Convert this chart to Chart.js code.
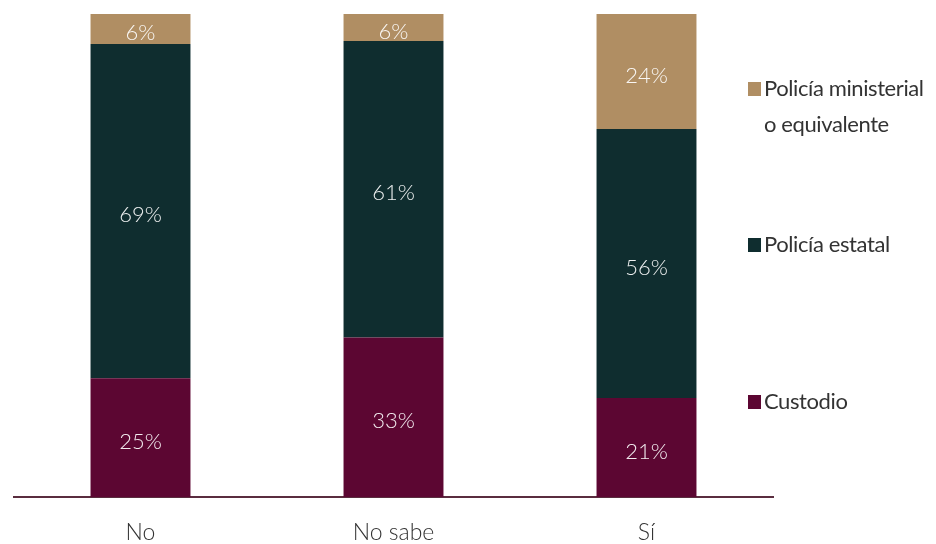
<!DOCTYPE html>
<html>
<head>
<meta charset="utf-8">
<script src="https://cdn.jsdelivr.net/npm/chart.js@4"></script>
<style>
  body { margin: 0; background: #fff; font-family: Lato, sans-serif; }
  #wrap { position: relative; width: 936px; height: 544px; }
  .leg { position: absolute; left: 748px; font-size: 22px; color: #333; line-height: 36px; font-weight: 400; white-space: nowrap; letter-spacing: -0.4px; }
  .leg i { display: inline-block; width: 13px; height: 14px; margin-right: 3px; vertical-align: 0px; }
</style>
</head>
<body>
<div id="wrap">
  <canvas id="chart" width="936" height="544"></canvas>
  <div class="leg" style="top:70px"><i style="background:#B08E63"></i>Policía ministerial<br><span style="padding-left:16px">o equivalente</span></div>
  <div class="leg" style="top:226px"><i style="background:#0F2D2F"></i>Policía estatal</div>
  <div class="leg" style="top:383px"><i style="background:#5C0632"></i>Custodio</div>
</div>
<script>
  // categories and series (percent of each bar)
  const categories = ["No", "No sabe", "Sí"];
  const custodio = [24.6, 33.0, 20.5];
  const estatal = [69.2, 61.4, 55.7];
  const ministerial = [6.2, 5.6, 23.8];

  // labels drawn inside each segment
  const barLabels = {
    id: "barLabels",
    afterDatasetsDraw(chart) {
      const ctx = chart.ctx;
      ctx.save();
      ctx.font = "300 22px Lato";
      ctx.fillStyle = "rgba(255,255,255,0.92)";
      ctx.textAlign = "center";
      ctx.textBaseline = "middle";
      chart.data.datasets.forEach((ds, i) => {
        chart.getDatasetMeta(i).data.forEach((bar, j) => {
          const y = (bar.y + bar.base) / 2 + 4;
          ctx.fillText(Math.round(ds.data[j]) + "%", bar.x, y);
        });
      });
      ctx.restore();
    }
  };

  new Chart(document.getElementById("chart"), {
    type: "bar",
    data: {
      labels: categories,
      datasets: [
        { label: "Custodio", data: custodio, backgroundColor: "#5C0632" },
        { label: "Policía estatal", data: estatal, backgroundColor: "#0F2D2F" },
        { label: "Policía ministerial o equivalente", data: ministerial, backgroundColor: "#B08E63" }
      ]
    },
    options: {
      responsive: false,
      animation: false,
      layout: { padding: { left: 14, right: 163, top: 14, bottom: 0 } },
      plugins: { legend: { display: false }, tooltip: { enabled: false } },
      datasets: { bar: { categoryPercentage: 1, barPercentage: 0.395 } },
      scales: {
        x: {
          stacked: true,
          grid: { display: false },
          border: { display: true, color: "#5a2d3f", width: 2 },
          ticks: { color: "#333", font: { family: "Lato", size: 23, weight: 300 }, padding: 14 },
          afterFit(scale) { scale.height = 47; }
        },
        y: { stacked: true, display: false, min: 0, max: 100 }
      }
    },
    plugins: [barLabels]
  });
</script>
</body>
</html>
